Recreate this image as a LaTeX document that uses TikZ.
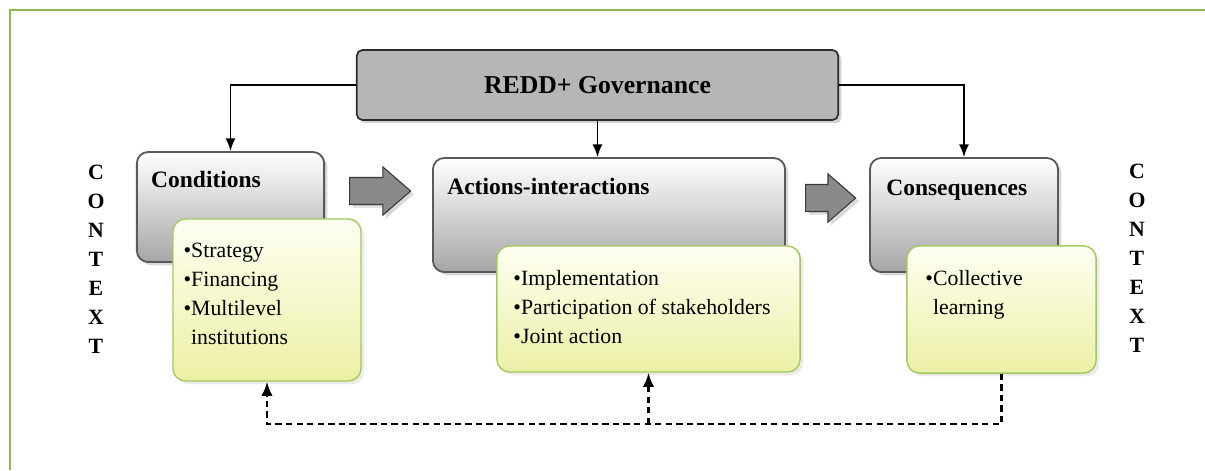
\documentclass[tikz,border=0pt]{standalone}
\usepackage{fontspec}
\setmainfont{Liberation Serif}
\usetikzlibrary{shapes.arrows,shadows,arrows.meta}

\definecolor{framegreen}{HTML}{8DB853}
\definecolor{govgray}{HTML}{B5B7B7}
\definecolor{govline}{HTML}{2B2B2B}
\definecolor{boxgray}{HTML}{A6A6A6}
\definecolor{boxline}{HTML}{5A5A5A}
\definecolor{notetop}{HTML}{FEFFF2}
\definecolor{notebottom}{HTML}{ECF0A5}
\definecolor{noteline}{HTML}{A2C95F}
\definecolor{arrowgray}{HTML}{8A8A8A}
\definecolor{arrowline}{HTML}{3A3A3A}

\begin{document}
\begin{tikzpicture}[x=0.025cm, y=-0.025cm,
govbox/.style={rectangle, rounded corners=4pt, draw=govline, line width=1.2pt, fill=govgray, minimum width=12.03cm, minimum height=1.75cm, drop shadow={opacity=0.35}, font=\fontsize{18.3}{22}\selectfont\bfseries},
graybox/.style={rectangle, rounded corners=8pt, draw=boxline, line width=1.3pt, top color=white, bottom color=boxgray, drop shadow={opacity=0.3}},
notebox/.style={rectangle, rounded corners=9pt, draw=noteline, line width=1pt, top color=notetop, bottom color=notebottom, drop shadow={opacity=0.15}},
boxtitle/.style={anchor=base west, inner sep=0pt, font=\fontsize{16.7}{20}\selectfont\bfseries},
items/.style={anchor=north west, inner sep=0pt, align=left, font=\fontsize{15.5}{20.6}\selectfont},
ctxt/.style={align=center, inner sep=0pt, font=\fontsize{15.5}{20.6}\selectfont\bfseries},
blockarrow/.style={single arrow, draw=arrowline, fill=arrowgray, line width=0.8pt, inner xsep=0pt, inner ysep=9.2pt, single arrow head extend=7.5pt, single arrow tip angle=82, anchor=tail, drop shadow={opacity=0.3}},
link/.style={line width=1pt, -{Latex[length=9pt,width=7pt]}},
feedback/.style={line width=1.6pt, dash pattern=on 4.5pt off 3pt, -{Latex[length=10pt,width=8pt]}}]

	\useasboundingbox (0,0) rectangle (1205,470);
	\draw[framegreen, line width=1.5pt] (10,470) -- (10,10) -- (1205,10);

	% governance on top
	\node (gov) [govbox] at (597.5,85) {REDD+ Governance};

	% the three stages
	\node (cond) [graybox, minimum width=4.68cm, minimum height=2.75cm] at (230.5,207) {};
	\node (act) [graybox, minimum width=8.80cm, minimum height=2.85cm] at (609,215) {};
	\node (cons) [graybox, minimum width=4.70cm, minimum height=2.85cm] at (964,215) {};

	\node (condt) [boxtitle] at ([shift={(15,36)}]cond.north west) {Conditions};
	\node (actt) [boxtitle] at ([shift={(15,37)}]act.north west) {Actions-interactions};
	\node (const) [boxtitle] at ([shift={(17,38)}]cons.north west) {Consequences};

	\node (condb) [notebox, minimum width=4.70cm, minimum height=4.05cm] at (267,300) {};
	\node (actb) [notebox, minimum width=7.58cm, minimum height=3.15cm] at (648.5,309) {};
	\node (consb) [notebox, minimum width=4.73cm, minimum height=3.18cm] at (1001.5,309.5) {};

	\node (condi) [items] at ([shift={(11,25)}]condb.north west) {•Strategy\\•Financing\\•Multilevel\\\phantom{•}institutions};
	\node (acti) [items] at ([shift={(17,25)}]actb.north west) {•Implementation\\•Participation of stakeholders\\•Joint action};
	\node (consi) [items] at ([shift={(19,25)}]consb.north west) {•Collective\\\phantom{•}learning};

	% block arrows between stages
	\node (arr1) [blockarrow, minimum height=43.4pt] at (349,191) {};
	\node (arr2) [blockarrow, minimum height=35.6pt] at (805,198) {};

	% context on both sides
	\node (ctxl) [ctxt] at (96,259) {C\\O\\N\\T\\E\\X\\T};
	\node (ctxr) [ctxt] at (1137,258) {C\\O\\N\\T\\E\\X\\T};

	% governance links
	\draw[link] (gov.west) -| (cond.north);
	\draw[link] (gov.east) -| (cons.north);
	\draw[link] (gov.south) -- (gov.south |- act.north);

	% feedback loop
	\coordinate (fb) at (actb.south |- 0,424);
	\draw[feedback] (consb.south) |- (fb) -| (condb.south);
	\draw[feedback] (fb) -- (actb.south);

\end{tikzpicture}
\end{document}
